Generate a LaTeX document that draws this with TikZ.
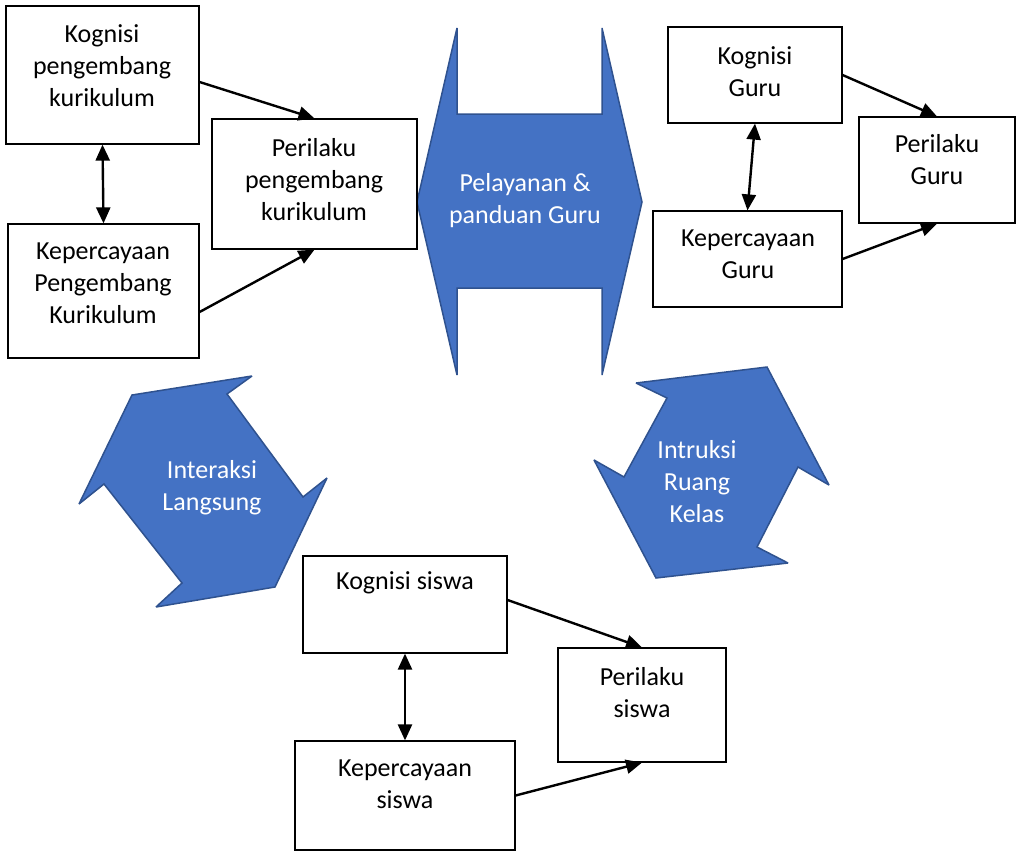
\documentclass[tikz,border=0pt]{standalone}
\usepackage{fontspec}
\setmainfont{Carlito}
\usetikzlibrary{arrows.meta}
\definecolor{officeblue}{HTML}{4472C4}
\definecolor{edgeblue}{HTML}{2F528F}
\tikzset{
  kotak/.style={draw, line width=1.2pt, inner sep=0pt},
  teks/.style={align=center, font=\fontsize{26}{32}\selectfont},
  tekbiru/.style={teks, text=white},
  panah/.style={line width=2.4pt, -{Triangle[length=16pt,width=14pt]}},
  panahdua/.style={line width=2.4pt, {Triangle[length=16pt,width=14pt]}-{Triangle[length=16pt,width=14pt]}},
  bentuk/.style={fill=officeblue, draw=edgeblue, line width=1.5pt, miter limit=2}
}
\begin{document}
\begin{tikzpicture}[x=1pt,y=-1pt]
  \useasboundingbox (0,0) rectangle (1018,852);
  % blue shapes
  \draw[bentuk] (457,28) -- (457,114) -- (602,114) -- (602,28) -- (642,202) -- (602,375)
    -- (602,288) -- (457,288) -- (457,375) -- (417,202) -- cycle;
  \draw[bentuk] (132,395) -- (252,376) -- (227,394) -- (303,497) -- (327,478) -- (275,587)
    -- (156,607) -- (182,583) -- (104,484) -- (79,504) -- cycle;
  \draw[bentuk] (636,383) -- (767,367) -- (829,485) -- (798,467) -- (757,547) -- (788,563)
    -- (656,578) -- (594,460) -- (624,477) -- (667,398) -- cycle;
  \node[tekbiru] (layan) at (525,201) {Pelayanan \&\\panduan Guru};
  \node[tekbiru] (interaksi) at (212,488) {Interaksi\\Langsung};
  \node[tekbiru] (intruksi) at (697,482) {Intruksi\\Ruang\\Kelas};
  % pengembang kurikulum
  \node[kotak, minimum width=193pt, minimum height=138pt] (kpk) at (102.5,75) {};
  \node[kotak, minimum width=191pt, minimum height=134pt] (bpk) at (103.5,291) {};
  \node[kotak, minimum width=205pt, minimum height=130pt] (ppk) at (314.5,184) {};
  \node[teks] (kpk-t) at (102,66) {Kognisi\\pengembang\\kurikulum};
  \node[teks] (bpk-t) at (103,283) {Kepercayaan\\Pengembang\\Kurikulum};
  \node[teks] (ppk-t) at (314,180) {Perilaku\\pengembang\\kurikulum};
  \draw[panah] ([yshift=-7pt]kpk.east) -- (ppk.north);
  \draw[panah] ([yshift=-21pt]bpk.east) -- (ppk.south);
  \draw[panahdua] (kpk.south) -- (bpk.north);
  % guru
  \node[kotak, minimum width=174pt, minimum height=96pt] (kg) at (755,75) {};
  \node[kotak, minimum width=189pt, minimum height=96pt] (bg) at (747.5,259) {};
  \node[kotak, minimum width=156pt, minimum height=106pt] (pg) at (937,170) {};
  \node[teks] (kg-t) at (755,72) {Kognisi\\Guru};
  \node[teks] (bg-t) at (748,254) {Kepercayaan\\Guru};
  \node[teks] (pg-t) at (937,160) {Perilaku\\Guru};
  \draw[panah] (kg.east) -- (pg.north);
  \draw[panah] (bg.east) -- (pg.south);
  \draw[panahdua] (kg.south) -- (bg.north);
  % siswa
  \node[kotak, minimum width=204pt, minimum height=97pt] (ks) at (405,604.5) {};
  \node[kotak, minimum width=220pt, minimum height=109pt] (bs) at (405,795.5) {};
  \node[kotak, minimum width=168pt, minimum height=114pt] (ps) at (642,705) {};
  \node[teks] (ks-t) at (405,583) {Kognisi siswa};
  \node[teks] (bs-t) at (405,784) {Kepercayaan\\siswa};
  \node[teks] (ps-t) at (642,693) {Perilaku\\siswa};
  \draw[panah] ([yshift=4.5pt]ks.east) -- (ps.north);
  \draw[panah] (bs.east) -- (ps.south);
  \draw[panahdua] (ks.south) -- (bs.north);
\end{tikzpicture}
\end{document}
